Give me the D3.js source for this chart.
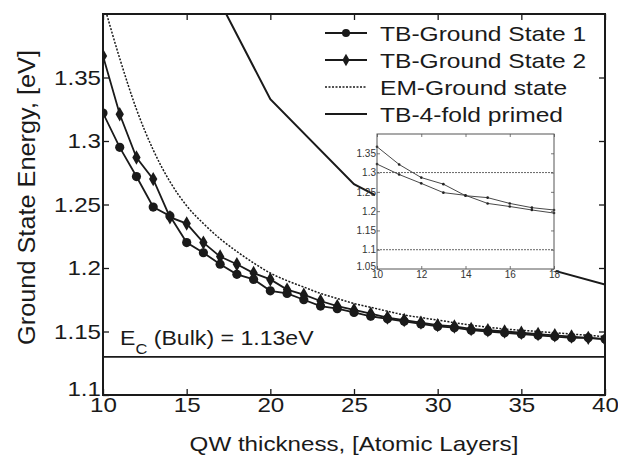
<!DOCTYPE html>
<html>
<head>
<meta charset="utf-8">
<script src="https://cdn.jsdelivr.net/npm/d3@7"></script>
<style>
  body { margin: 0; background: #fff; }
  svg { display: block; font-family: "Liberation Sans", Arial, sans-serif; }
</style>
</head>
<body>
<div id="chart"></div>
<script>
// thickness in atomic layers
var layers = [10, 11, 12, 13, 14, 15, 16, 17, 18, 19, 20, 21, 22, 23, 24, 25,
  26, 27, 28, 29, 30, 31, 32, 33, 34, 35, 36, 37, 38, 39, 40];
var tbGround1 = [1.322, 1.295, 1.272, 1.248, 1.241, 1.220, 1.212, 1.203, 1.195, 1.191,
  1.182, 1.180, 1.175, 1.170, 1.168, 1.165, 1.162, 1.160, 1.158, 1.156, 1.154,
  1.153, 1.151, 1.150, 1.149, 1.148, 1.147, 1.146, 1.145, 1.145, 1.144];
var tbGround2 = [1.367, 1.321, 1.287, 1.270, 1.240, 1.235, 1.220, 1.209, 1.203, 1.196,
  1.191, 1.183, 1.179, 1.174, 1.170, 1.167, 1.164, 1.161, 1.159, 1.157, 1.155,
  1.154, 1.152, 1.151, 1.150, 1.149, 1.148, 1.147, 1.146, 1.145, 1.144];
var emLayers = [10, 11, 12, 13, 14, 15, 16, 17, 18, 19, 20, 21, 22, 23, 24, 25,
  26, 27, 28, 29, 30, 32, 34, 36, 38, 40];
var emGround = [1.41, 1.365, 1.325, 1.293, 1.268, 1.249, 1.235, 1.223, 1.213, 1.204,
  1.196, 1.190, 1.185, 1.180, 1.176, 1.172, 1.169, 1.166, 1.163, 1.161, 1.159,
  1.155, 1.152, 1.150, 1.148, 1.146];
var primedLayers = [15, 20, 25, 30, 35, 40];
var tbPrimed = [1.46, 1.333, 1.266, 1.232, 1.205, 1.187];
var bulkEc = 1.13;

var xTicks = [10, 15, 20, 25, 30, 35, 40];
var yTicks = [1.1, 1.15, 1.2, 1.25, 1.3, 1.35];
var yTickLabels = ["1.1", "1.15", "1.2", "1.25", "1.3", "1.35"];
var insetXTicks = [10, 12, 14, 16, 18];
var insetYTicks = [1.05, 1.1, 1.15, 1.2, 1.25, 1.3, 1.35];
var insetYLabels = ["1.05", "1.1", "1.15", "1.2", "1.25", "1.3", "1.35"];
var insetRefLines = [1.1, 1.3];

var legendNames = ["TB-Ground State 1", "TB-Ground State 2", "EM-Ground state", "TB-4-fold primed"];

const width = 618, height = 461;
const margin = {top: 14, right: 13, bottom: 66, left: 103};
const innerW = width - margin.left - margin.right;
const innerH = height - margin.top - margin.bottom;
var ink = "#1a1a1a";
var fs = 21;       // base font size
var wide = 1.15;   // the scan's lettering is a bit wider than arial

// widen text glyphs along their baseline
function stretch(sel, k) {
  sel.each(function() {
    var len = this.getComputedTextLength();
    d3.select(this).attr("textLength", len * k).attr("lengthAdjust", "spacingAndGlyphs");
  });
}

var svg = d3.select("#chart").append("svg")
  .attr("width", width)
  .attr("height", height);

svg.append("defs").append("clipPath").attr("id", "plotClip")
  .append("rect").attr("width", innerW).attr("height", innerH);

var g = svg.append("g")
  .attr("transform", `translate(${margin.left}, ${margin.top})`);

var x = d3.scaleLinear().domain([10, 40]).range([0, innerW]);
var y = d3.scaleLinear().domain([1.1, 1.4]).range([innerH, 0]);

var zip = (xs, ys) => xs.map((v, i) => ({x: v, y: ys[i]}));
var gs1 = zip(layers, tbGround1);
var gs2 = zip(layers, tbGround2);
var em = zip(emLayers, emGround);
var primed = zip(primedLayers, tbPrimed);

var line = d3.line().x(d => x(d.x)).y(d => y(d.y));

var plot = g.append("g").attr("clip-path", "url(#plotClip)");

// bulk conduction band edge
plot.append("line")
  .attr("x1", 0).attr("x2", innerW)
  .attr("y1", y(bulkEc)).attr("y2", y(bulkEc))
  .attr("stroke", ink).attr("stroke-width", 1.6);

plot.append("path").datum(primed)
  .attr("d", line).attr("fill", "none")
  .attr("stroke", ink).attr("stroke-width", 2);

plot.append("path").datum(em)
  .attr("d", d3.line().curve(d3.curveMonotoneX).x(d => x(d.x)).y(d => y(d.y)))
  .attr("fill", "none")
  .attr("stroke", ink).attr("stroke-width", 1.5)
  .attr("stroke-dasharray", "2,1.5");

plot.append("path").datum(gs2)
  .attr("d", line).attr("fill", "none")
  .attr("stroke", ink).attr("stroke-width", 1.8);
plot.append("path").datum(gs1)
  .attr("d", line).attr("fill", "none")
  .attr("stroke", ink).attr("stroke-width", 1.8);

var diamond = d3.symbol().type(d3.symbolDiamond).size(60);
plot.selectAll(".dia").data(gs2).enter()
  .append("path").attr("class", "dia")
  .attr("d", diamond)
  .attr("transform", d => `translate(${x(d.x)},${y(d.y)})`)
  .attr("fill", ink);

plot.selectAll(".dot").data(gs1).enter()
  .append("circle").attr("class", "dot")
  .attr("cx", d => x(d.x)).attr("cy", d => y(d.y))
  .attr("r", 4.6).attr("fill", ink);

// axes, ticks pointing inward like matlab
function styleAxis(sel) {
  sel.select(".domain").remove();
  sel.selectAll("line").attr("stroke", ink).attr("stroke-width", 1.3);
  sel.selectAll("text").attr("fill", ink).style("font-size", fs + "px")
    .call(stretch, wide);
}

g.append("g").attr("transform", `translate(0, ${innerH})`)
  .call(d3.axisBottom(x).tickValues(xTicks).tickSize(-6).tickPadding(2))
  .call(styleAxis);
g.append("g")
  .call(d3.axisTop(x).tickValues(xTicks).tickSize(-6).tickFormat(""))
  .call(styleAxis);
var yAxisG = g.append("g")
  .call(d3.axisLeft(y).tickValues(yTicks).tickSize(-6).tickPadding(2)
    .tickFormat((d, i) => yTickLabels[i]))
  .call(styleAxis);
// lowest label sits a little raised, as in the original
yAxisG.selectAll("text").filter(d => d === yTicks[0]).attr("dy", "0em");
g.append("g").attr("transform", `translate(${innerW}, 0)`)
  .call(d3.axisRight(y).tickValues(yTicks).tickSize(-6).tickFormat(""))
  .call(styleAxis);

g.append("rect")
  .attr("width", innerW).attr("height", innerH)
  .attr("fill", "none").attr("stroke", ink).attr("stroke-width", 2);

// Ec label
var ecText = g.append("text")
  .attr("x", 17).attr("y", 331)
  .attr("fill", ink).style("font-size", fs + "px");
ecText.append("tspan").text("E");
ecText.append("tspan").attr("dy", 9).style("font-size", "15px").text("C");
ecText.append("tspan").attr("dy", -9).text(" (Bulk) = 1.13eV");
ecText.call(stretch, 1.1);

// axis titles
svg.append("text")
  .attr("x", margin.left + innerW / 2).attr("y", 451)
  .attr("text-anchor", "middle").attr("fill", ink)
  .style("font-size", fs + "px")
  .text("QW thickness, [Atomic Layers]")
  .call(stretch, wide);

svg.append("text")
  .attr("transform", `translate(35, ${margin.top + innerH / 2 - 7}) rotate(-90)`)
  .attr("text-anchor", "middle").attr("fill", ink)
  .style("font-size", "23px")
  .text("Ground State Energy, [eV]")
  .call(stretch, 1.1);

// legend
var legend = g.append("g").attr("transform", "translate(222, 19)");
legendNames.forEach(function(name, i) {
  var row = legend.append("g").attr("transform", `translate(0, ${i * 27})`);
  var ln = row.append("line")
    .attr("x1", 0).attr("x2", 42).attr("y1", 0).attr("y2", 0)
    .attr("stroke", ink).attr("stroke-width", i === 2 ? 1.5 : 1.8);
  if (i === 2) ln.attr("stroke-dasharray", "2,1.5");
  if (i === 0) row.append("circle").attr("cx", 21).attr("r", 4).attr("fill", ink);
  if (i === 1) row.append("path").attr("d", d3.symbol().type(d3.symbolDiamond).size(45))
    .attr("transform", "translate(21,0)").attr("fill", ink);
  row.append("text").attr("x", 55).attr("y", 8)
    .attr("fill", ink).style("font-size", fs + "px").text(name)
    .call(stretch, 1.17);
});

// inset zoom on thin wells
var inset = {left: 377, top: 134, w: 177, h: 135};
var ig = svg.append("g").attr("transform", `translate(${inset.left}, ${inset.top})`);
var ix = d3.scaleLinear().domain([10, 18]).range([0, inset.w]);
var iy = d3.scaleLinear().domain([1.05, 1.4]).range([inset.h, 0]);
var iline = d3.line().x(d => ix(d.x)).y(d => iy(d.y));
var grey = "#555";

ig.append("rect").attr("x", -2).attr("y", -2)
  .attr("width", inset.w + 4).attr("height", inset.h + 4).attr("fill", "#fff");

insetRefLines.forEach(function(v) {
  ig.append("line")
    .attr("x1", 0).attr("x2", inset.w).attr("y1", iy(v)).attr("y2", iy(v))
    .attr("stroke", grey).attr("stroke-width", 0.9).attr("stroke-dasharray", "2,1");
});

[gs1, gs2].forEach(function(s) {
  var part = s.filter(d => d.x <= 18);
  ig.append("path").datum(part).attr("d", iline)
    .attr("fill", "none").attr("stroke", "#333").attr("stroke-width", 0.9);
  ig.selectAll(null).data(part).enter().append("circle")
    .attr("cx", d => ix(d.x)).attr("cy", d => iy(d.y))
    .attr("r", 1.3).attr("fill", "#222");
});

function styleInset(sel) {
  sel.select(".domain").remove();
  sel.selectAll("line").attr("stroke", grey).attr("stroke-width", 0.8);
  sel.selectAll("text").attr("fill", "#333").style("font-size", "10px");
}
ig.append("g").attr("transform", `translate(0, ${inset.h})`)
  .call(d3.axisBottom(ix).tickValues(insetXTicks).tickSize(-3).tickPadding(2))
  .call(styleInset);
ig.append("g")
  .call(d3.axisTop(ix).tickValues(insetXTicks).tickSize(-3).tickFormat(""))
  .call(styleInset);
var insetYAxis = ig.append("g")
  .call(d3.axisLeft(iy).tickValues(insetYTicks).tickSize(-3).tickPadding(1)
    .tickFormat((d, i) => insetYLabels[i]))
  .call(styleInset);
insetYAxis.selectAll("text").filter(d => d === insetYTicks[0]).attr("dy", "0.05em");
ig.append("g").attr("transform", `translate(${inset.w}, 0)`)
  .call(d3.axisRight(iy).tickValues(insetYTicks).tickSize(-3).tickFormat(""))
  .call(styleInset);
ig.append("rect").attr("width", inset.w).attr("height", inset.h)
  .attr("fill", "none").attr("stroke", grey).attr("stroke-width", 1);
</script>
</body>
</html>
